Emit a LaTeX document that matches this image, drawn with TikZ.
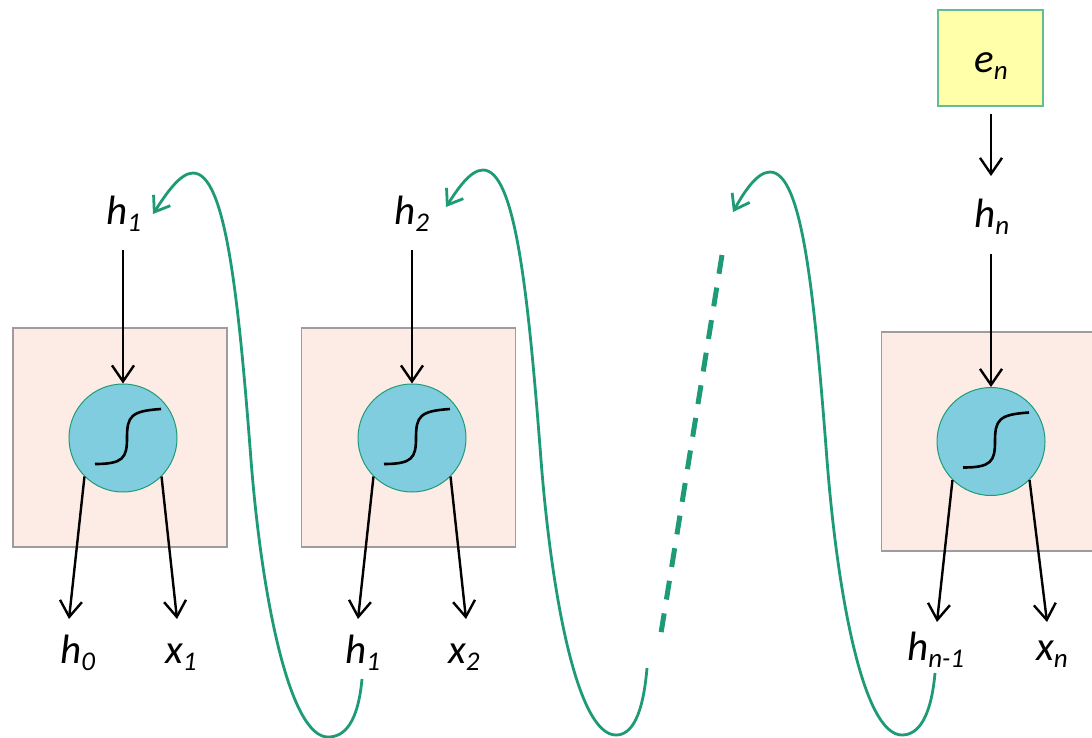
\documentclass[tikz,border=0pt]{standalone}
\usepackage{fontspec}
\setmainfont{Carlito}
\usetikzlibrary{arrows.meta,calc}
\definecolor{gr}{RGB}{30,155,118}
\definecolor{boxfill}{RGB}{253,236,229}
\definecolor{boxline}{RGB}{160,156,156}
\definecolor{cfill}{RGB}{129,205,224}
\definecolor{yfill}{RGB}{255,255,170}
\definecolor{yline}{RGB}{95,190,150}
\newcommand{\subl}[2]{#1\raisebox{-7pt}{\fontsize{27}{27}\selectfont #2}}
\tikzset{
  cell/.style={draw=boxline, fill=boxfill, line width=1.6pt, minimum width=214pt, minimum height=219pt, inner sep=0},
  neuron/.style={circle, draw=gr, line width=1pt, fill=cfill, minimum size=108pt, inner sep=0},
  lab/.style={font=\fontsize{41}{41}\selectfont\itshape, inner sep=0, anchor=base west},
  arr/.style={-{Straight Barb[length=16pt,width=22pt]}, line width=2.4pt},
  loop/.style={draw=gr, line width=2.8pt, -{Straight Barb[length=14pt,width=20pt]}},
  sig/.style={line width=2.6pt},
  ebox/.style={draw=yline, fill=yfill, line width=1.6pt, minimum width=105pt, minimum height=96pt, inner sep=0}
}
\begin{document}
\begin{tikzpicture}[x=1pt,y=-1pt]
\useasboundingbox (0,0) rectangle (1092,737);
% cells
\node[cell] (b1) at (120,437.5) {};
\node[cell] (b2) at (408.5,437.5) {};
\node[cell] (b3) at (988.5,441.5) {};
\node[neuron] (n1) at (123,438) {};
\node[neuron] (n2) at (412,438) {};
\node[neuron] (n3) at (991,441.5) {};
\foreach \n in {n1,n2,n3}{
  \draw[sig, shift={(\n.center)}] (-28,26) .. controls (0,26) and (4,20) .. (4,0) .. controls (4,-22) and (8,-27) .. (38,-29);
}
% e_n box
\node[ebox] (en) at (990.5,58) {};
\node[lab] (enl) at (974,72) {\subl{e}{n}};
% top labels
\node[lab] (t1) at (106,224) {\subl{h}{1}};
\node[lab] (t2) at (394,224) {\subl{h}{2}};
\node[lab] (tn) at (974,227) {\subl{h}{n}};
% bottom labels
\node[lab] (l1a) at (60,663) {\subl{h}{0}};
\node[lab] (l1b) at (165,663) {\subl{x}{1}};
\node[lab] (l2a) at (345,663) {\subl{h}{1}};
\node[lab] (l2b) at (448,663) {\subl{x}{2}};
\node[lab] (l3a) at (907,660) {\subl{h}{n-1}};
\node[lab] (l3b) at (1036,660) {\subl{x}{n}};
% arrow ends
\coordinate (a1s) at (123,250);
\coordinate (a2s) at (412,250);
\coordinate (a3s) at (991,254);
\coordinate (es) at (991,114);
\coordinate (ee) at (991,176);
\coordinate (o1a) at (69,619);
\coordinate (o1b) at (177,619);
\coordinate (o2a) at (358,619);
\coordinate (o2b) at (466,619);
\coordinate (o3a) at (937,622);
\coordinate (o3b) at (1047,622);
\draw[arr] (a1s) -- (n1.north);
\draw[arr] (a2s) -- (n2.north);
\draw[arr] (a3s) -- (n3.north);
\draw[arr] (es) -- (ee);
\draw[arr] (n1.-135) -- (o1a);
\draw[arr] (n1.-45) -- (o1b);
\draw[arr] (n2.-135) -- (o2a);
\draw[arr] (n2.-45) -- (o2b);
\draw[arr] (n3.-135) -- (o3a);
\draw[arr] (n3.-45) -- (o3b);
% loops
\coordinate (s1) at (362,679);
\coordinate (e1) at (153,214);
\coordinate (s2) at (647,668);
\coordinate (e2) at (446,207);
\coordinate (s3) at (935,673);
\coordinate (e3) at (733,212);
\draw[loop] (s1) .. controls (358,722) and (345,737) .. (328,737) .. controls (290,737) and (262,600) .. (251,460) .. controls (238,290) and (225,173) .. (193,173) .. controls (180,173) and (166,194) .. (e1);
\draw[loop] (s2) .. controls (643,715) and (632,735) .. (616,735) .. controls (578,735) and (552,600) .. (541,460) .. controls (528,290) and (515,170) .. (483,170) .. controls (470,170) and (457,190) .. (e2);
\draw[loop] (s3) .. controls (931,718) and (918,735) .. (902,735) .. controls (864,735) and (838,600) .. (827,460) .. controls (814,290) and (802,172) .. (770,172) .. controls (757,172) and (744,192) .. (e3);
% dashed continuation
\coordinate (d1) at (722,255);
\coordinate (d2) at (661,633);
\draw[gr, line width=5pt, dash pattern=on 19pt off 14pt] (d1) -- (d2);
\end{tikzpicture}
\end{document}
